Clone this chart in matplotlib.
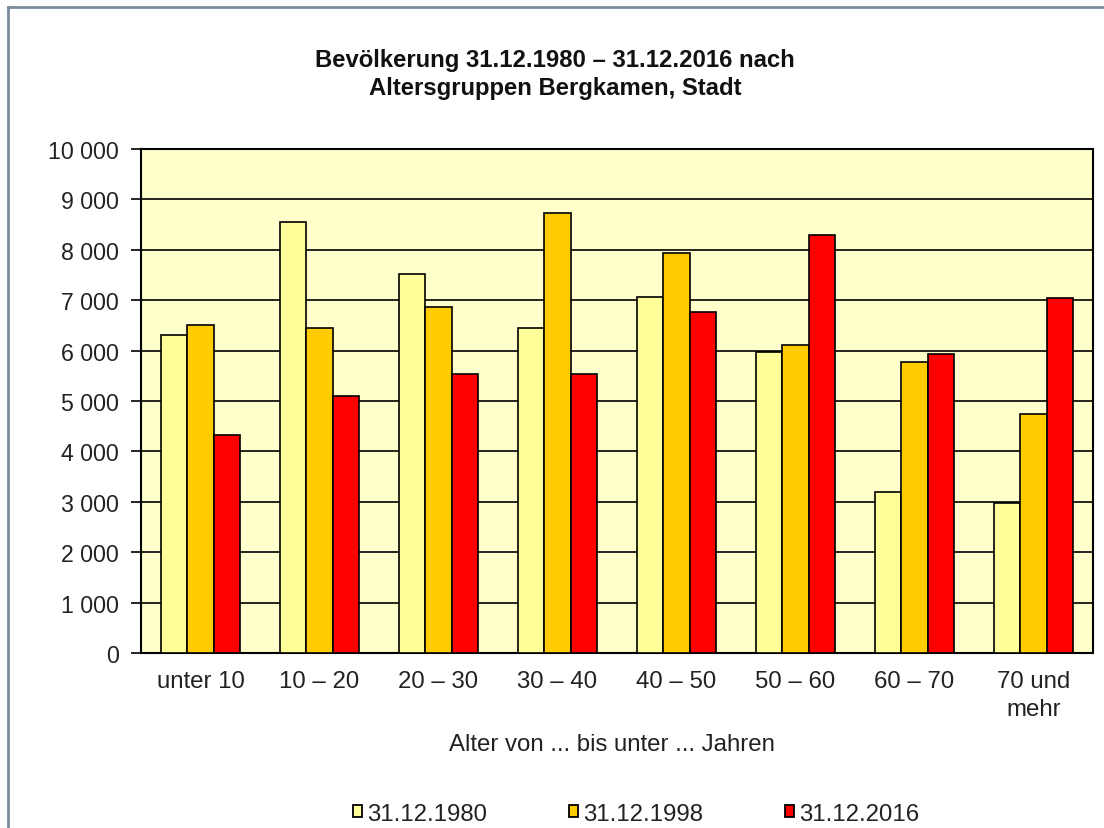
import matplotlib
matplotlib.use("Agg")
import matplotlib.pyplot as plt
from matplotlib.patches import Patch
from matplotlib.lines import Line2D
import numpy as np

plt.rcParams['font.family'] = ['Liberation Sans', 'DejaVu Sans']

categories = ["unter 10", "10 – 20", "20 – 30", "30 – 40", "40 – 50", "50 – 60", "60 – 70", "70 und\nmehr"]
series_names = ["31.12.1980", "31.12.1998", "31.12.2016"]
v1980 = [6300, 8560, 7510, 6440, 7060, 5980, 3200, 2980]
v1998 = [6510, 6440, 6860, 8730, 7930, 6120, 5770, 4750]
v2016 = [4320, 5100, 5540, 5540, 6760, 8300, 5940, 7040]
colors = ["#FFFF99", "#FFCC00", "#FF0000"]
yticks = [0, 1000, 2000, 3000, 4000, 5000, 6000, 7000, 8000, 9000, 10000]
ytick_labels = ["0", "1 000", "2 000", "3 000", "4 000", "5 000", "6 000", "7 000", "8 000", "9 000", "10 000"]

W, H = 1104, 829
fig = plt.figure(figsize=(W / 100, H / 100), dpi=100)
fig.patch.set_facecolor("white")

ax = fig.add_axes([141 / W, 1 - 654 / H, (1093 - 141) / W, (654 - 150) / H])
ax.set_facecolor("#FFFFCC")

x = np.arange(len(categories))
width = 0.222
for i, (vals, col) in enumerate(zip([v1980, v1998, v2016], colors)):
    ax.bar(x + (i - 1) * width, vals, width, color=col, edgecolor="black", linewidth=1.2, zorder=3)

ax.set_xlim(-0.5, len(categories) - 0.5)
ax.set_ylim(0, 10000)
ax.set_yticks(yticks)
ax.set_yticklabels(ytick_labels, fontsize=16.7, color="#222222")
ax.set_xticks(x)
ax.set_xticklabels(categories, fontsize=17.3, color="#222222", linespacing=1.4, va="top")
ax.tick_params(axis="x", length=0, pad=12)
ax.tick_params(axis="y", length=7, width=1.2, pad=9, direction="out")
ax.yaxis.grid(True, color="black", linewidth=1.2, zorder=1)
ax.set_axisbelow(True)
for s in ax.spines.values():
    s.set_color("black")
    s.set_linewidth(1.5)

fig.text(555 / W, 1 - 61 / H, "Bevölkerung 31.12.1980 – 31.12.2016 nach", ha="center", va="center",
         fontsize=17.2, fontweight="bold", color="#111111")
fig.text(555 / W, 1 - 88 / H, "Altersgruppen Bergkamen, Stadt", ha="center", va="center",
         fontsize=17.2, fontweight="bold", color="#111111")

fig.text(612 / W, 1 - 745 / H, "Alter von ... bis unter ... Jahren", ha="center", va="center",
         fontsize=17.3, color="#222222")

handles = [Patch(facecolor=c, edgecolor="black", linewidth=1.3) for c in colors]
leg = fig.legend(handles, series_names, loc="center", bbox_to_anchor=(636 / W, 1 - 815 / H),
                 ncol=3, frameon=False, fontsize=17.3, handlelength=0.4, handleheight=0.4,
                 handletextpad=0.2, columnspacing=3.4, borderaxespad=0, borderpad=0)
for t in leg.get_texts():
    t.set_color("#222222")

# figure border (left and top)
fig.add_artist(Line2D([8 / W, 8 / W], [0, 1 - 8 / H], transform=fig.transFigure, color="#7a8b9b", linewidth=2))
fig.add_artist(Line2D([8 / W, 1], [1 - 8 / H, 1 - 8 / H], transform=fig.transFigure, color="#7a8b9b", linewidth=2))

fig.savefig("out.png", dpi=100)
